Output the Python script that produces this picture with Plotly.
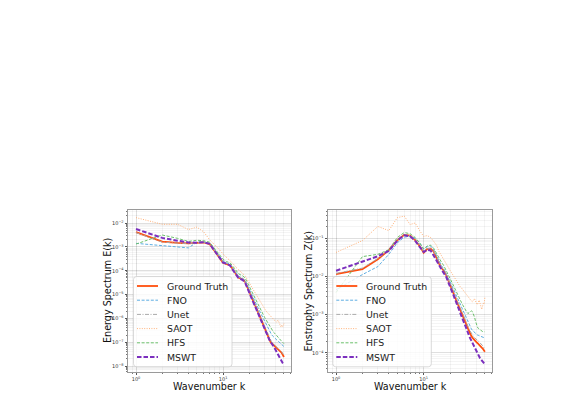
import plotly.graph_objects as go
import numpy as np

W, H = 571, 396

# ---------------- data (log10 of spectra) ----------------
k = list(range(1, 51))

E_gt = [-2.38, -2.78, -2.83, -2.85, -2.83, -2.81, -2.88, -3.18, -3.42, -3.66,
        -3.72, -3.76, -3.95, -4.14, -4.28, -4.33, -4.37, -4.48, -4.70, -4.90,
        -5.10, -5.25, -5.40, -5.55, -5.72, -5.85, -5.98, -6.12, -6.28, -6.40,
        -6.52, -6.65, -6.76, -6.88, -6.98, -7.04, -7.08, -7.12, -7.16, -7.20,
        -7.24, -7.27, -7.30, -7.33, -7.36, -7.40, -7.44, -7.50, -7.56, -7.62]
E_fno = [-2.85, -2.95, -2.99, -3.04, -2.80, -2.79, -2.86, -3.12, -3.35, -3.58,
         -3.68, -3.72, -3.90, -4.08, -4.22, -4.28, -4.33, -4.43, -4.62, -4.80,
         -4.98, -5.12, -5.26, -5.40, -5.54, -5.66, -5.78, -5.90, -6.02, -6.13,
         -6.24, -6.35, -6.45, -6.54, -6.62, -6.68, -6.73, -6.78, -6.82, -6.86,
         -6.90, -6.93, -6.96, -6.99, -7.02, -7.06, -7.09, -7.12, -7.15, -7.18]
E_unet = [-2.40, -2.80, -2.84, -2.86, -2.82, -2.80, -2.87, -3.16, -3.40, -3.64,
          -3.71, -3.75, -3.94, -4.12, -4.27, -4.32, -4.36, -4.47, -4.68, -4.88,
          -5.07, -5.22, -5.37, -5.52, -5.68, -5.82, -5.95, -6.08, -6.23, -6.36,
          -6.48, -6.60, -6.71, -6.82, -6.92, -6.98, -7.03, -7.07, -7.11, -7.15,
          -7.19, -7.22, -7.25, -7.28, -7.31, -7.35, -7.39, -7.44, -7.50, -7.55]
E_saot = [-1.77, -2.05, -2.05, -2.27, -2.17, -2.37, -2.70, -2.90, -3.10, -3.30,
          -3.45, -3.55, -3.70, -3.85, -3.95, -4.02, -4.10, -4.22, -4.38, -4.52,
          -4.65, -4.78, -4.90, -5.02, -5.12, -5.22, -5.35, -5.45, -5.55, -5.62,
          -5.68, -5.74, -5.80, -5.86, -5.92, -5.96, -6.00, -6.04, -6.08, -6.12,
          -6.15, -6.10, -6.08, -6.18, -6.30, -6.34, -6.28, -6.36, -6.32, -6.22]
E_hfs = [-2.88, -2.50, -2.64, -2.77, -2.72, -2.74, -2.80, -3.08, -3.30, -3.52,
         -3.62, -3.66, -3.82, -3.98, -4.12, -4.18, -4.22, -4.32, -4.50, -4.66,
         -4.82, -4.96, -5.10, -5.24, -5.38, -5.50, -5.62, -5.74, -5.85, -5.96,
         -6.05, -6.14, -6.22, -6.30, -6.38, -6.46, -6.52, -6.58, -6.62, -6.66,
         -6.70, -6.74, -6.79, -6.84, -6.88, -6.92, -6.96, -7.00, -7.03, -7.06]
E_mswt = [-2.25, -2.62, -2.74, -2.81, -2.82, -2.80, -2.87, -3.16, -3.42, -3.66,
          -3.70, -3.78, -3.98, -4.16, -4.30, -4.35, -4.40, -4.52, -4.74, -4.95,
          -5.14, -5.30, -5.45, -5.60, -5.76, -5.90, -6.04, -6.18, -6.32, -6.45,
          -6.58, -6.70, -6.80, -6.90, -6.98, -7.04, -7.10, -7.16, -7.24, -7.32,
          -7.40, -7.48, -7.55, -7.62, -7.70, -7.76, -7.80, -7.85, -7.90, -7.95]

Z_gt = [-1.94, -1.81, -1.55, -1.31, -1.05, -0.91, -0.93, -1.05, -1.20, -1.38,
        -1.28, -1.27, -1.34, -1.52, -1.66, -1.78, -1.85, -1.95, -2.10, -2.20,
        -2.32, -2.45, -2.56, -2.66, -2.74, -2.82, -2.92, -3.02, -3.12, -3.20,
        -3.28, -3.36, -3.44, -3.50, -3.56, -3.60, -3.64, -3.67, -3.70, -3.72,
        -3.74, -3.76, -3.78, -3.80, -3.83, -3.86, -3.88, -3.91, -3.94, -3.97]
Z_fno = [-2.35, -1.95, -1.74, -1.42, -1.12, -0.97, -0.95, -1.00, -1.12, -1.28,
         -1.22, -1.20, -1.30, -1.45, -1.60, -1.72, -1.80, -1.90, -2.03, -2.13,
         -2.24, -2.35, -2.45, -2.55, -2.63, -2.70, -2.78, -2.86, -2.94, -3.02,
         -3.10, -3.18, -3.26, -3.32, -3.37, -3.41, -3.44, -3.47, -3.50, -3.52,
         -3.53, -3.54, -3.55, -3.56, -3.57, -3.58, -3.59, -3.60, -3.60, -3.61]
Z_unet = [-1.92, -1.78, -1.53, -1.30, -1.04, -0.91, -0.93, -1.04, -1.18, -1.35,
          -1.27, -1.26, -1.33, -1.50, -1.64, -1.76, -1.83, -1.93, -2.07, -2.17,
          -2.29, -2.41, -2.52, -2.62, -2.70, -2.78, -2.87, -2.96, -3.06, -3.14,
          -3.22, -3.30, -3.37, -3.43, -3.49, -3.53, -3.57, -3.60, -3.63, -3.65,
          -3.67, -3.69, -3.71, -3.73, -3.76, -3.79, -3.81, -3.84, -3.87, -3.90]
Z_saot = [-1.37, -1.06, -0.69, -0.80, -0.46, -0.42, -0.64, -0.60, -0.80, -0.95,
          -0.93, -0.98, -1.08, -1.18, -1.35, -1.45, -1.55, -1.65, -1.75, -1.84,
          -1.92, -2.00, -2.08, -2.14, -2.20, -2.26, -2.30, -2.35, -2.40, -2.44,
          -2.48, -2.52, -2.56, -2.60, -2.64, -2.66, -2.60, -2.58, -2.64, -2.70,
          -2.74, -2.68, -2.62, -2.70, -2.82, -2.86, -2.78, -2.70, -2.72, -2.54]
Z_hfs = [-2.42, -1.48, -1.42, -1.30, -0.98, -0.85, -0.88, -0.98, -1.12, -1.28,
         -1.20, -1.18, -1.26, -1.40, -1.52, -1.63, -1.72, -1.82, -1.95, -2.05,
         -2.16, -2.26, -2.36, -2.45, -2.53, -2.60, -2.68, -2.75, -2.82, -2.88,
         -2.93, -2.97, -2.95, -2.92, -2.90, -2.92, -2.98, -3.06, -3.16, -3.26,
         -3.32, -3.36, -3.38, -3.40, -3.42, -3.43, -3.44, -3.44, -3.45, -3.45]
Z_mswt = [-1.85, -1.60, -1.47, -1.33, -1.06, -0.92, -0.95, -1.07, -1.22, -1.36,
          -1.30, -1.32, -1.45, -1.60, -1.70, -1.82, -1.90, -2.00, -2.14, -2.25,
          -2.38, -2.50, -2.62, -2.74, -2.85, -2.95, -3.05, -3.14, -3.22, -3.30,
          -3.40, -3.48, -3.55, -3.62, -3.68, -3.74, -3.80, -3.86, -3.92, -3.97,
          -4.02, -4.06, -4.10, -4.14, -4.17, -4.20, -4.23, -4.26, -4.28, -4.30]

series_names = ["Ground Truth", "FNO", "Unet", "SAOT", "HFS", "MSWT"]
E_series = [E_gt, E_fno, E_unet, E_saot, E_hfs, E_mswt]
Z_series = [Z_gt, Z_fno, Z_unet, Z_saot, Z_hfs, Z_mswt]

x_tick_vals = [1, 10]
x_tick_text = ["10<sup>0</sup>", "10<sup>1</sup>"]
E_tick_exps = [-2, -3, -4, -5, -6, -7, -8]
Z_tick_exps = [-1, -2, -3, -4]

# ---------------- styles ----------------
styles = [
    dict(color="#FF4E0D", width=1.8, dash="solid"),
    dict(color="#5DADE2", width=1.0, dash="3px,1.6px"),
    dict(color="#A9A9A9", width=1.0, dash="4px,1.5px,1px,1.5px"),
    dict(color="#FFB27A", width=1.0, dash="1px,1.4px"),
    dict(color="#6CC06C", width=1.0, dash="3px,1.6px"),
    dict(color="#7B2FBE", width=2.0, dash="4.5px,2px"),
]


def pxx(x):
    return x / W


def pxy(y):
    return 1 - y / H


fig = go.Figure()
for col, series in ((1, E_series), (2, Z_series)):
    xa = "x" if col == 1 else "x2"
    ya = "y" if col == 1 else "y2"
    for name, vals, st in zip(series_names, series, styles):
        fig.add_trace(go.Scatter(
            x=k, y=10 ** np.array(vals), mode="lines", name=name,
            line=dict(color=st["color"], width=st["width"], dash=st["dash"]),
            xaxis=xa, yaxis=ya, showlegend=False, hoverinfo="skip"))

grid_major = "rgba(0,0,0,0.085)"
grid_minor = "rgba(0,0,0,0.045)"
frame = "#9a9a9a"


def xaxis_cfg(domain):
    return dict(domain=domain, type="log", range=[-0.092, 1.78],
                tickvals=x_tick_vals, ticktext=x_tick_text,
                tickfont=dict(size=5, color="#333", family="DejaVu Sans"),
                ticks="outside", ticklen=2.5, tickwidth=0.6, tickcolor="#555",
                showline=True, mirror=True, linecolor=frame, linewidth=0.8,
                showgrid=True, gridcolor=grid_major, gridwidth=0.6, zeroline=False,
                minor=dict(dtick="D1", ticks="outside", ticklen=1.3, tickwidth=0.5,
                           tickcolor="#777", showgrid=True, gridcolor=grid_minor,
                           gridwidth=0.5))


def yaxis_cfg(domain, rng, exps):
    return dict(domain=domain, type="log", range=rng,
                tickvals=[10.0 ** e for e in exps],
                ticktext=["10<sup>\u2212%d</sup>" % (-e) for e in exps],
                tickfont=dict(size=5, color="#333", family="DejaVu Sans"),
                ticks="outside", ticklen=2.5, tickwidth=0.6, tickcolor="#555",
                showline=True, mirror=True, linecolor=frame, linewidth=0.8,
                showgrid=True, gridcolor=grid_major, gridwidth=0.6, zeroline=False,
                minor=dict(dtick="D1", ticks="outside", ticklen=1.3, tickwidth=0.5,
                           tickcolor="#777", showgrid=True, gridcolor=grid_minor,
                           gridwidth=0.5))


ydom = [pxy(372), pxy(210)]
fig.update_layout(
    width=W, height=H, margin=dict(l=0, r=0, t=0, b=0),
    paper_bgcolor="white", plot_bgcolor="white", showlegend=False,
    font=dict(family="DejaVu Sans", color="#222"),
    xaxis=xaxis_cfg([pxx(128), pxx(291)]),
    yaxis=yaxis_cfg(ydom, [-8.25, -1.45], E_tick_exps),
    xaxis2=dict(xaxis_cfg([pxx(328), pxx(492)]), anchor="y2"),
    yaxis2=dict(yaxis_cfg(ydom, [-4.5, -0.26], Z_tick_exps), anchor="x2"),
)
fig.layout.xaxis.anchor = "y"
fig.layout.yaxis.anchor = "x"

annotations = []
shapes = []
title_size = 9.6
# axis titles
for cx in (209.5, 410):
    annotations.append(dict(text="Wavenumber k", x=pxx(cx), y=pxy(386.5), xref="paper",
                            yref="paper", showarrow=False, xanchor="center",
                            yanchor="middle", font=dict(size=title_size, color="#111")))
for cx, txt in ((107, "Energy Spectrum E(k)"), (307.5, "Enstrophy Spectrum Z(k)")):
    annotations.append(dict(text=txt, x=pxx(cx), y=pxy(291), xref="paper", yref="paper",
                            showarrow=False, textangle=-90, xanchor="center",
                            yanchor="middle", font=dict(size=title_size, color="#111")))

# legends (drawn in paper space)
row_y = [286, 300.2, 314.4, 328.6, 342.8, 357]
for bx in (133.5, 332.8):
    x0, x1, y0, y1, r = bx, bx + 98.5, 276.5, 366.8, 3
    path = ("M {a},{b} L {c},{b} Q {d},{b} {d},{e} L {d},{f} Q {d},{g} {c},{g} "
            "L {a},{g} Q {h},{g} {h},{f} L {h},{e} Q {h},{b} {a},{b} Z").format(
        a=pxx(x0 + r), b=pxy(y0), c=pxx(x1 - r), d=pxx(x1), e=pxy(y0 + r),
        f=pxy(y1 - r), g=pxy(y1), h=pxx(x0))
    shapes.append(dict(type="path", path=path, xref="paper", yref="paper",
                       fillcolor="rgba(255,255,255,0.8)",
                       line=dict(color="rgba(204,204,204,0.9)", width=0.8),
                       layer="above"))
    for ry, name, st in zip(row_y, series_names, styles):
        shapes.append(dict(type="line", xref="paper", yref="paper",
                           x0=pxx(bx + 3.5), x1=pxx(bx + 24.5), y0=pxy(ry), y1=pxy(ry),
                           line=dict(color=st["color"], width=st["width"],
                                     dash=st["dash"]), layer="above"))
        annotations.append(dict(text=name, x=pxx(bx + 31.5), y=pxy(ry), xref="paper",
                                yref="paper", showarrow=False, xanchor="left",
                                yanchor="middle", font=dict(size=9.4, color="#222")))

fig.update_layout(annotations=annotations, shapes=shapes)
fig.write_html("out.html")
